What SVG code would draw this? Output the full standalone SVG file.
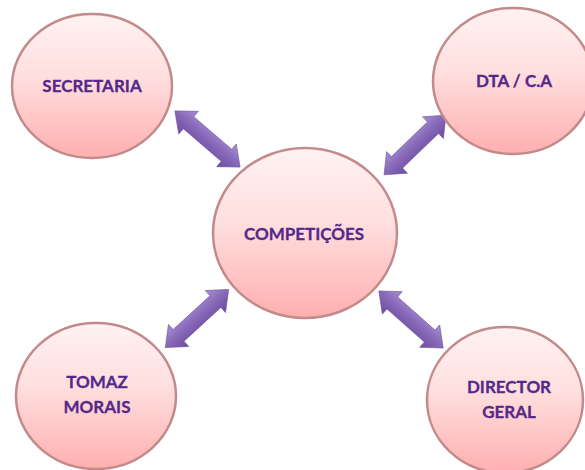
<svg xmlns="http://www.w3.org/2000/svg" width="585" height="470" viewBox="0 0 585 470">
<style>
.node ellipse{fill:url(#pink);stroke:#c28a8a;stroke-width:2.5}
.lbl{font-family:Lato,"Open Sans","DejaVu Sans",sans-serif;font-weight:bold;font-size:17px;fill:#55288a;text-anchor:middle;stroke:#55288a;stroke-width:0.3}
.arr{fill:url(#purp);stroke:#6d519c;stroke-width:0.6}
</style>
<defs>
<linearGradient id="pink" x1="0" y1="0" x2="0" y2="1">
<stop offset="0" stop-color="#fff2f2"/>
<stop offset="0.45" stop-color="#ffdede"/>
<stop offset="1" stop-color="#ffafaf"/>
</linearGradient>
<linearGradient id="purp" gradientUnits="userSpaceOnUse" x1="0" y1="-15" x2="0" y2="15">
<stop offset="0" stop-color="#a892d2"/>
<stop offset="0.5" stop-color="#8667b8"/>
<stop offset="1" stop-color="#6a4b9c"/>
</linearGradient>
<polygon id="dbl" points="-43,0 -25,-15 -25,-8 25,-8 25,-15 43,0 25,15 25,8 -25,8 -25,15"/>
</defs>
<rect width="585" height="470" fill="#ffffff"/>
<g id="connectors">
<use href="#dbl" class="arr" transform="translate(207.5,139) rotate(40.7)"/>
<use href="#dbl" class="arr" transform="translate(415,145) rotate(-44)"/>
<use href="#dbl" class="arr" transform="translate(197,318.5) rotate(-42.6)"/>
<use href="#dbl" class="arr" transform="translate(411,319.5) rotate(41.6)"/>
</g>
<g id="secretaria" class="node">
<ellipse cx="92" cy="86" rx="80" ry="72"/>
<text class="lbl" x="92" y="92">SECRETARIA</text>
</g>
<g id="dta" class="node">
<ellipse cx="513" cy="81" rx="80" ry="73"/>
<text class="lbl" x="514" y="87">DTA / C.A</text>
</g>
<g id="competicoes" class="node">
<ellipse cx="305" cy="233" rx="92" ry="85"/>
<text class="lbl" x="304" y="240">COMPETIÇÕES</text>
</g>
<g id="tomaz" class="node">
<ellipse cx="96" cy="396" rx="80" ry="73"/>
<text class="lbl" x="97" y="388">TOMAZ</text>
<text class="lbl" x="97" y="413">MORAIS</text>
</g>
<g id="director" class="node">
<ellipse cx="505" cy="400" rx="78" ry="73"/>
<text class="lbl" x="509" y="393">DIRECTOR</text>
<text class="lbl" x="509" y="418">GERAL</text>
</g>
</svg>
